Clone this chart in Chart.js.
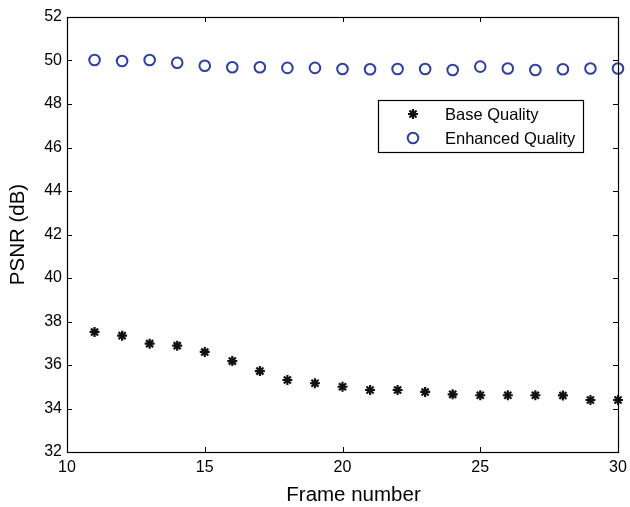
<!DOCTYPE html>
<html><head><meta charset="utf-8">
<script src="https://cdn.jsdelivr.net/npm/chart.js@4.4.0/dist/chart.umd.min.js"></script>
<style>html,body{margin:0;padding:0;background:#fff}#wrap{width:630px;height:507px}</style>
</head><body><div id="wrap"><canvas id="c" width="630" height="507"></canvas></div>
<script>
const frames = [11,12,13,14,15,16,17,18,19,20,21,22,23,24,25,26,27,28,29,30];
const baseQuality = [37.52,37.35,36.98,36.89,36.60,36.18,35.72,35.31,35.16,35.00,34.85,34.85,34.76,34.65,34.61,34.61,34.61,34.60,34.39,34.39];
const enhancedQuality = [50.02,49.98,50.02,49.90,49.76,49.69,49.69,49.66,49.66,49.61,49.60,49.61,49.61,49.56,49.72,49.63,49.56,49.60,49.63,49.63];
const xTicks = [10,15,20,25,30];
const yTicks = [32,34,36,38,40,42,44,46,48,50,52];
const seriesNames = ['Base Quality','Enhanced Quality'];
const xTitle = 'Frame number';
const yTitle = 'PSNR (dB)';

const FONT = "'Liberation Sans', Arial, Helvetica, sans-serif";
const BLUE = '#2c3fa6';

const frameTicks = {
  id: 'frameTicks',
  afterDatasetsDraw(chart) {
    const {ctx, chartArea: a, scales: {x, y}} = chart;
    ctx.save();
    ctx.strokeStyle = '#000';
    ctx.lineWidth = 1;
    ctx.beginPath();
    const L = 5;
    xTicks.forEach(v => {
      const px = Math.round(x.getPixelForValue(v)) + 0.5;
      ctx.moveTo(px, a.bottom); ctx.lineTo(px, a.bottom - L);
      ctx.moveTo(px, a.top); ctx.lineTo(px, a.top + L);
    });
    yTicks.forEach(v => {
      const py = Math.round(y.getPixelForValue(v)) + 0.5;
      ctx.moveTo(a.left, py); ctx.lineTo(a.left + L, py);
      ctx.moveTo(a.right, py); ctx.lineTo(a.right - L, py);
    });
    ctx.stroke();
    ctx.lineWidth = 1.2;
    ctx.strokeRect(Math.round(a.left)+0.5, Math.round(a.top)+0.5, Math.round(a.right-a.left), Math.round(a.bottom-a.top));
    // x-axis title (MATLAB places it slightly right of centre)
    ctx.fillStyle = '#000';
    ctx.font = '20.5px ' + FONT;
    ctx.textAlign = 'center';
    ctx.textBaseline = 'middle';
    ctx.fillText(xTitle, (a.left + a.right) / 2 + 11, 495);
    ctx.restore();
  }
};

const boxLegend = {
  id: 'boxLegend',
  afterDraw(chart) {
    const {ctx} = chart;
    const ds = chart.data.datasets;
    const bx = 378.5, by = 100.5, bw = 205, bh = 52;
    ctx.save();
    ctx.fillStyle = '#fff';
    ctx.fillRect(bx, by, bw, bh);
    ctx.strokeStyle = '#000';
    ctx.lineWidth = 1.2;
    ctx.strokeRect(bx, by, bw, bh);
    ctx.font = '16.5px ' + FONT;
    ctx.textBaseline = 'middle';
    const rows = [114, 138];
    ds.forEach((d, i) => {
      ctx.strokeStyle = d.borderColor;
      ctx.fillStyle = d.backgroundColor;
      ctx.lineWidth = d.pointBorderWidth;
      Chart.helpers.drawPoint(ctx, {pointStyle: d.pointStyle, radius: d.pointRadius, borderWidth: d.pointBorderWidth, rotation: 0}, 413, rows[i]);
      ctx.fillStyle = '#000';
      ctx.fillText(seriesNames[i], 445, rows[i] + 1);
    });
    ctx.restore();
  }
};

new Chart(document.getElementById('c'), {
  type: 'scatter',
  data: {
    datasets: [
      {
        label: seriesNames[0],
        data: frames.map((f, i) => ({x: f, y: baseQuality[i]})),
        pointStyle: 'star', pointRadius: 5, pointBorderWidth: 2.2,
        borderColor: '#111', backgroundColor: '#111', clip: false
      },
      {
        label: seriesNames[1],
        data: frames.map((f, i) => ({x: f, y: enhancedQuality[i]})),
        pointStyle: 'circle', pointRadius: 5.3, pointBorderWidth: 2,
        borderColor: BLUE, backgroundColor: 'rgba(0,0,0,0)', clip: false
      }
    ]
  },
  options: {
    responsive: false,
    animation: false,
    devicePixelRatio: 1,
    layout: {padding: {top: 17, right: 12, left: 0, bottom: 0}},
    plugins: {legend: {display: false}, tooltip: {enabled: false}},
    elements: {point: {hoverRadius: 5}},
    scales: {
      x: {
        type: 'linear', min: 10, max: 30,
        afterBuildTicks: s => { s.ticks = xTicks.map(v => ({value: v})); },
        afterFit: s => { s.height = 55; s.paddingRight = 0; s.paddingLeft = 0; },
        grid: {display: false, drawTicks: false},
        border: {display: false},
        ticks: {color: '#000', padding: 6, font: {family: FONT, size: 16}, maxRotation: 0},
        title: {display: false, text: xTitle}
      },
      y: {
        type: 'linear', min: 32, max: 52,
        afterBuildTicks: s => { s.ticks = yTicks.map(v => ({value: v})); },
        afterFit: s => { s.width = 67; },
        grid: {display: false, drawTicks: false},
        border: {display: false},
        ticks: {color: '#000', padding: 5, font: {family: FONT, size: 16}},
        title: {display: true, text: yTitle, color: '#000', font: {family: FONT, size: 20.5}, padding: {top: 6, bottom: 0}}
      }
    }
  },
  plugins: [frameTicks, boxLegend]
});
</script></body></html>
